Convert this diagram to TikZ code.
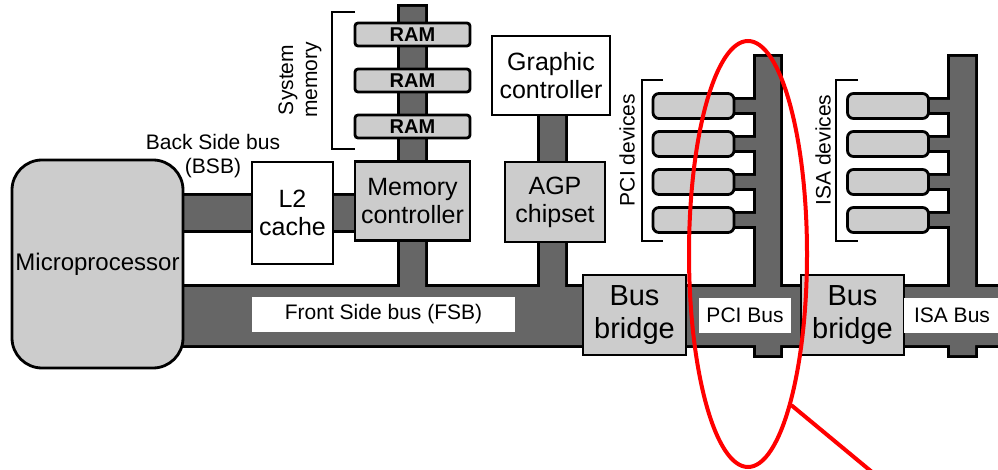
\documentclass[tikz,border=0pt]{standalone}
\usepackage{fontspec}
\setmainfont{Liberation Sans}
\usetikzlibrary{shapes.geometric}
\definecolor{busgray}{HTML}{666666}
\definecolor{boxgray}{HTML}{CCCCCC}
\begin{document}
\begin{tikzpicture}[x=1pt,y=-1pt,
  box/.style={draw,line width=2.8pt,fill=boxgray,inner sep=1pt,align=center,
    font=\fontsize{25}{28}\selectfont},
  whitebox/.style={box,fill=white},
  bridge/.style={box,minimum width=103,minimum height=80,font=\fontsize{29}{33}\selectfont},
  ram/.style={box,rounded corners=3pt,minimum width=115,minimum height=23,
    font=\fontsize{20}{22}\selectfont\bfseries},
  dev/.style={box,rounded corners=6pt,minimum width=81,minimum height=25},
  buslabel/.style={fill=white,inner sep=0pt,minimum height=35,font=\fontsize{21}{24}\selectfont},
  small/.style={align=center,inner sep=0pt,font=\fontsize{21}{24}\selectfont},
  busline/.style={draw,line width=5.6pt},
  busfill/.style={fill=busgray},
  bracket/.style={line width=2.8pt},
  mark red/.style={draw=red,line width=4pt}]
\useasboundingbox (0,0) rectangle (998,470);
\clip (0,0) rectangle (998,470);

\foreach \l in {busline,busfill}
  \path[\l] (150,196) rectangle (380,230)
    (400,7) rectangle (425,290)
    (150,287) rectangle (600,345)
    (540,110) rectangle (565,290)
    (670,287) rectangle (820,345)
    (756,57) rectangle (780,355)
    (890,287) rectangle (1010,345)
    (950,57) rectangle (975,355)
    \foreach \y in {106,144,182,220} {
      (720,\y-6) rectangle (760,\y+6)
      (915,\y-6) rectangle (955,\y+6)};

\node[box,rounded corners=30pt,minimum width=171,minimum height=208,
  font=\fontsize{24}{27}\selectfont] (cpu) at (97.5,264) {Microprocessor};
\node[small] (bsb) at (213,156) {Back Side bus\\(BSB)};
\node[whitebox,minimum width=81,minimum height=102] (l2) at (292.5,213) {L2\\cache};
\node[box,minimum width=115,minimum height=79] (mc) at (412.5,201) {Memory\\controller};
\foreach \y/\n in {34.5/1,80.5/2,126.5/3}
  \node[ram] (ram\n) at (412.5,\y) {RAM};
\node[small,rotate=90] (sysmem) at (300,80) {System\\memory};
\draw[bracket] (355,12) -| (332,149) -- (355,149);

\node[whitebox,minimum width=118,minimum height=79] (gc) at (551,75.5) {Graphic\\controller};
\node[box,minimum width=100,minimum height=80] (agp) at (555,202) {AGP\\chipset};

\node[bridge] (bb1) at (634.5,315) {Bus\\bridge};
\node[bridge] (bb2) at (852.5,315) {Bus\\bridge};
\node[buslabel,minimum width=263] (fsb) at (383.5,314.5) {Front Side bus (FSB)};
\node[buslabel,minimum width=92] (pci) at (745,315.5) {PCI Bus};
\node[buslabel,minimum width=96] (isa) at (952,315.5) {ISA Bus};

\foreach \y/\n in {106/1,144/2,182/3,220/4} {
  \node[dev] (pcidev\n) at (693.5,\y) {};
  \node[dev] (isadev\n) at (888,\y) {};
}
\node[small,rotate=90] (pcilbl) at (627,150) {PCI devices};
\node[small,rotate=90] (isalbl) at (823,150) {ISA devices};
\draw[bracket] (663,80) -| (642,241) -- (663,241);
\draw[bracket] (858,80) -| (836,241) -- (858,241);

\node[mark red,ellipse,inner sep=0pt,minimum width=118,minimum height=426] (hl) at (748,254) {};
\coordinate (tail) at (884,482);
\draw[mark red] (hl.-74) -- (tail);
\end{tikzpicture}
\end{document}
